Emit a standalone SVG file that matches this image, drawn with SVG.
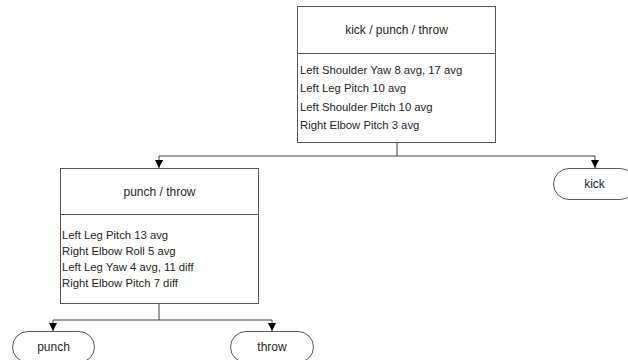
<svg xmlns="http://www.w3.org/2000/svg" width="628" height="360" viewBox="0 0 628 360">
  <style>
    .box { fill: #ffffff; stroke: #595959; stroke-width: 1; }
    .div { stroke: #595959; stroke-width: 1; }
    .wire { fill: none; stroke: #404040; stroke-width: 1; }
    text { font-family: "Liberation Sans", Arial, sans-serif; font-size: 11.3px; fill: #262626; }
    .title { text-anchor: middle; font-size: 12px; }
    .leaf { text-anchor: middle; font-size: 12px; }
  </style>
  <defs>
    <marker id="arrow" viewBox="0 0 8 8" refX="8" refY="4" markerWidth="8" markerHeight="8" markerUnits="userSpaceOnUse" orient="auto">
      <path d="M0,0 L8,4 L0,8 Z" fill="#000000"/>
    </marker>
  </defs>

  <g id="connectors">
    <!-- root to its children -->
    <path class="wire" d="M397,142 V156"/>
    <path class="wire" d="M159,156 H595"/>
    <path class="wire" d="M159,156 V168" marker-end="url(#arrow)"/>
    <path class="wire" d="M595,156 V168" marker-end="url(#arrow)"/>
    <!-- punch / throw to its children -->
    <path class="wire" d="M159,303 V320"/>
    <path class="wire" d="M53,320 H272"/>
    <path class="wire" d="M53,320 V331" marker-end="url(#arrow)"/>
    <path class="wire" d="M272,320 V331" marker-end="url(#arrow)"/>
  </g>

  <g id="node-root">
    <rect class="box" x="297.5" y="6.5" width="198" height="136"/>
    <line class="div" x1="297.5" y1="53.5" x2="495.5" y2="53.5"/>
    <text class="title" x="396.5" y="34">kick / punch / throw</text>
    <text x="300" y="74">Left Shoulder Yaw 8 avg, 17 avg</text>
    <text x="300" y="92">Left Leg Pitch 10 avg</text>
    <text x="300" y="111">Left Shoulder Pitch 10 avg</text>
    <text x="300" y="129">Right Elbow Pitch 3 avg</text>
  </g>

  <g id="node-punch-throw">
    <rect class="box" x="60.5" y="168.5" width="198" height="135"/>
    <line class="div" x1="60.5" y1="214.5" x2="258.5" y2="214.5"/>
    <text class="title" x="159.5" y="196">punch / throw</text>
    <text x="62" y="239">Left Leg Pitch 13 avg</text>
    <text x="62" y="255">Right Elbow Roll 5 avg</text>
    <text x="62" y="271">Left Leg Yaw 4 avg, 11 diff</text>
    <text x="62" y="287">Right Elbow Pitch 7 diff</text>
  </g>

  <g id="node-kick">
    <rect class="box" x="553.5" y="168.5" width="82" height="31" rx="15.5" ry="15.5"/>
    <text class="leaf" x="594.5" y="188">kick</text>
  </g>

  <g id="node-punch">
    <rect class="box" x="12.5" y="331.5" width="82" height="31" rx="15.5" ry="15.5"/>
    <text class="leaf" x="53.5" y="351">punch</text>
  </g>

  <g id="node-throw">
    <rect class="box" x="230.5" y="331.5" width="83" height="31" rx="15.5" ry="15.5"/>
    <text class="leaf" x="272" y="351">throw</text>
  </g>
</svg>
